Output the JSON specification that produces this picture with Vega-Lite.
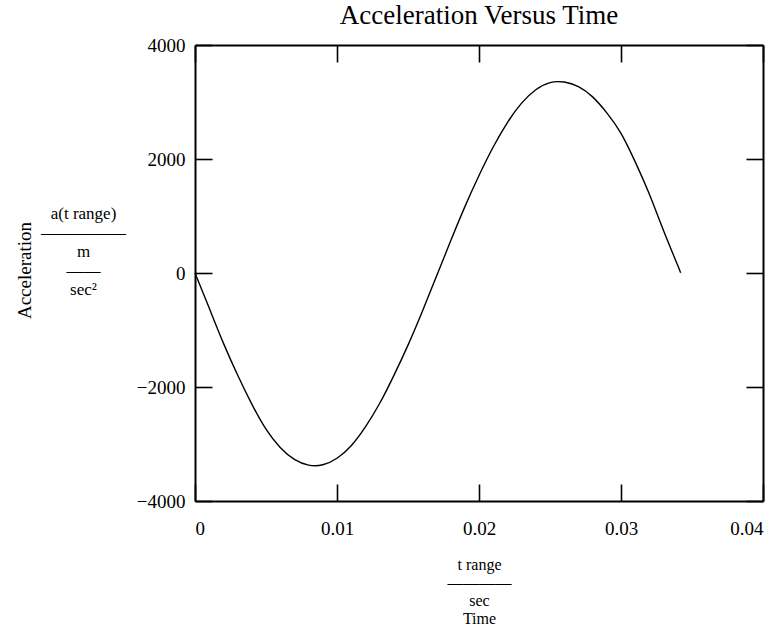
{
  "$schema": "https://vega.github.io/schema/vega-lite/v6.json",
  "autosize": {"type": "none"},
  "padding": {"left": 195, "top": 45, "right": 6, "bottom": 131},
  "width": 568,
  "height": 456,
  "background": "white",
  "title": {
    "text": "Acceleration Versus Time",
    "font": "Liberation Serif",
    "fontSize": 27,
    "fontWeight": "normal",
    "color": "black",
    "anchor": "middle",
    "offset": 6
  },
  "config": {
    "view": {"stroke": null},
    "axis": {
      "domainColor": "black",
      "domainWidth": 2,
      "tickColor": "black",
      "tickWidth": 1.6,
      "tickSize": -17,
      "grid": false,
      "labelFont": "Liberation Serif",
      "labelFontSize": 19,
      "labelColor": "black",
      "titleFont": "Liberation Serif",
      "titleFontWeight": "normal",
      "titleColor": "black"
    }
  },
  "data": {
    "values": [
      {"t": 0.000, "a": 0},
      {"t": 0.001, "a": -616},
      {"t": 0.002, "a": -1230},
      {"t": 0.003, "a": -1790},
      {"t": 0.004, "a": -2300},
      {"t": 0.005, "a": -2740},
      {"t": 0.006, "a": -3060},
      {"t": 0.007, "a": -3270},
      {"t": 0.008, "a": -3370},
      {"t": 0.009, "a": -3365},
      {"t": 0.010, "a": -3250},
      {"t": 0.011, "a": -3030},
      {"t": 0.012, "a": -2700},
      {"t": 0.013, "a": -2290},
      {"t": 0.014, "a": -1800},
      {"t": 0.015, "a": -1265},
      {"t": 0.016, "a": -680},
      {"t": 0.017, "a": -60},
      {"t": 0.018, "a": 560},
      {"t": 0.019, "a": 1160},
      {"t": 0.020, "a": 1710},
      {"t": 0.021, "a": 2210},
      {"t": 0.022, "a": 2640},
      {"t": 0.023, "a": 2980},
      {"t": 0.024, "a": 3215},
      {"t": 0.025, "a": 3340},
      {"t": 0.026, "a": 3350},
      {"t": 0.027, "a": 3270},
      {"t": 0.028, "a": 3090},
      {"t": 0.029, "a": 2810},
      {"t": 0.030, "a": 2450},
      {"t": 0.031, "a": 1950},
      {"t": 0.032, "a": 1380},
      {"t": 0.033, "a": 740},
      {"t": 0.034, "a": 130},
      {"t": 0.0342, "a": 0}
    ]
  },
  "resolve": {"axis": {"x": "independent", "y": "independent"}},
  "layer": [
    {
      "mark": {"type": "line", "color": "black", "strokeWidth": 1.4, "interpolate": "natural"},
      "encoding": {
        "x": {
          "field": "t",
          "type": "quantitative",
          "scale": {"domain": [0, 0.04], "nice": false, "zero": false},
          "axis": {
            "orient": "bottom",
            "values": [0, 0.01, 0.02, 0.03, 0.04],
            "format": "~g",
            "labelFontSize": 19,
            "labelPadding": 35,
            "labelFlush": true,
            "title": ["t range", "————", "sec", "Time"],
            "titleFontSize": 16,
            "titleLineHeight": 18,
            "titleBaseline": "top",
            "titleY": 55,
            "titleAnchor": "middle"
          }
        },
        "y": {
          "field": "a",
          "type": "quantitative",
          "scale": {"domain": [-4000, 4000], "nice": false},
          "axis": {
            "orient": "left",
            "values": [-4000, -2000, 0, 2000, 4000],
            "format": "d",
            "labelFontSize": 19,
            "labelPadding": 27,
            "title": ["a(t range)", "—————", "m", "——", "sec²"],
            "titleAngle": 0,
            "titleAlign": "center",
            "titleBaseline": "top",
            "titleFontSize": 17,
            "titleLineHeight": 19,
            "titleX": -112,
            "titleY": 160
          }
        }
      }
    },
    {
      "mark": {"type": "line", "opacity": 0},
      "encoding": {
        "x": {
          "field": "t",
          "type": "quantitative",
          "axis": {
            "orient": "top",
            "values": [0, 0.01, 0.02, 0.03, 0.04],
            "labels": false,
            "title": null
          }
        },
        "y": {
          "field": "a",
          "type": "quantitative",
          "axis": {
            "orient": "right",
            "values": [-4000, -2000, 0, 2000, 4000],
            "labels": false,
            "title": null
          }
        }
      }
    },
    {
      "mark": {"type": "line", "opacity": 0},
      "encoding": {
        "x": {"field": "t", "type": "quantitative", "axis": null},
        "y": {
          "field": "a",
          "type": "quantitative",
          "axis": {
            "orient": "left",
            "labels": false,
            "ticks": false,
            "domain": false,
            "title": "Acceleration",
            "titleFontSize": 19,
            "titleAngle": 270,
            "titleAlign": "center",
            "titleBaseline": "middle",
            "titleX": -171,
            "titleY": 225
          }
        }
      }
    }
  ]
}
